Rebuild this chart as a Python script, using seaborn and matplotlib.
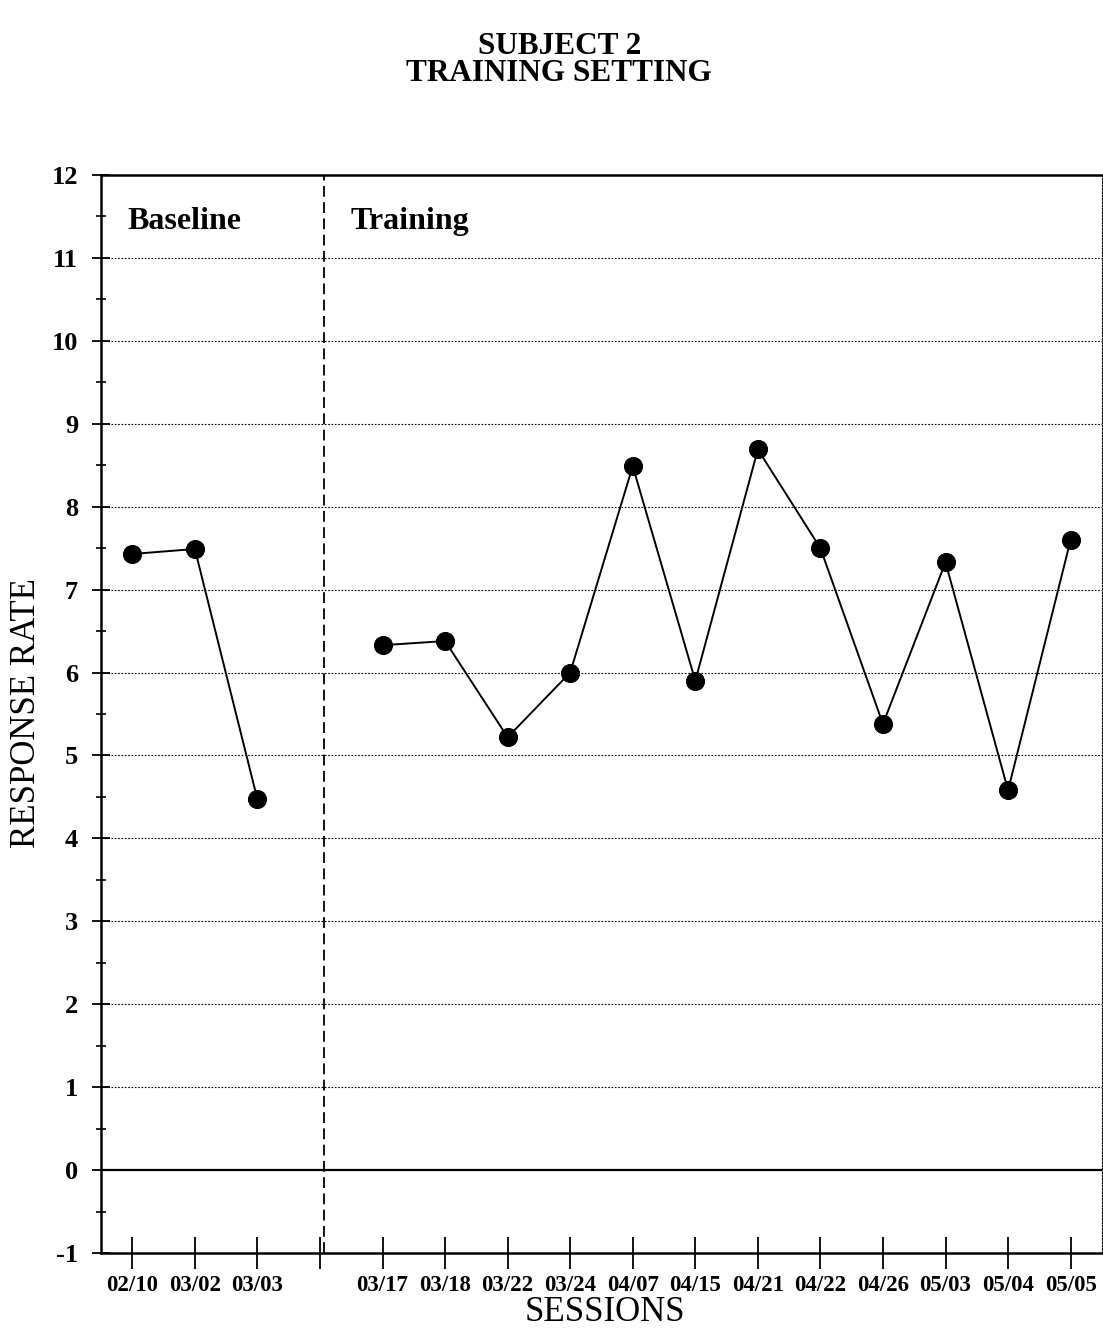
import numpy as np
import pandas as pd
import matplotlib
matplotlib.use("Agg")
import matplotlib.pyplot as plt
import seaborn as sns
from matplotlib.ticker import MultipleLocator

# données
baseline_dates = ["02/10", "03/02", "03/03"]
baseline_rates = [7.43, 7.49, 4.47]

training_dates = ["03/17", "03/18", "03/22", "03/24", "04/07", "04/15",
                  "04/21", "04/22", "04/26", "05/03", "05/04", "05/05"]
training_rates = [6.33, 6.38, 5.22, 6.0, 8.49, 5.9,
                  8.69, 7.5, 5.38, 7.33, 4.58, 7.6]

y_ticks = list(range(-1, 13))

# une case vide entre les deux phases
tick_labels = baseline_dates + [""] + training_dates
df_base = pd.DataFrame({"pos": range(len(baseline_dates)),
                        "rate": baseline_rates})
df_train = pd.DataFrame({"pos": range(len(baseline_dates) + 1, len(tick_labels)),
                         "rate": training_rates})

sns.set_style("white")
plt.rcParams["font.family"] = ["Liberation Serif", "DejaVu Serif"]
plt.rcParams["text.color"] = "black"

fig = plt.figure(figsize=(11.03, 13.32), dpi=100)
ax = fig.add_axes([0.0916, 0.0593, 0.9074, 0.8093])

for df in (df_base, df_train):
    sns.lineplot(data=df, x="pos", y="rate", ax=ax, color="black",
                 linewidth=1.4, marker="o", markersize=13,
                 markeredgecolor="black", markerfacecolor="black", zorder=5)

ax.set_xlim(-0.5, len(tick_labels) - 0.5)
ax.set_ylim(-1, 12)

# lignes horizontales pointillées + ligne du zéro
for y in y_ticks[2:-1]:
    ax.axhline(y, color="black", linewidth=0.8, linestyle=(0, (1.5, 1.5)), zorder=1)
ax.axhline(0, color="black", linewidth=1.6, zorder=2)

# séparation des phases
ax.axvline(3.06, color="black", linewidth=1.3, linestyle=(0, (6, 3)), zorder=2)

ax.text(-0.08, 11.35, "Baseline", fontsize=23, fontweight="bold", va="baseline")
ax.text(3.49, 11.35, "Training", fontsize=23, fontweight="bold", va="baseline")

ax.set_xticks(range(len(tick_labels)))
ax.set_xticklabels(tick_labels, fontsize=16.5, fontweight="bold")
ax.set_yticks(y_ticks)
ax.set_yticklabels([str(v) for v in y_ticks], fontsize=19, fontweight="bold")
ax.yaxis.set_minor_locator(MultipleLocator(0.5))

ax.tick_params(axis="x", bottom=True, direction="inout", length=23, width=1.3,
               pad=4, colors="black")
ax.tick_params(axis="y", which="major", left=True, direction="inout", length=13,
               width=1.3, pad=10, colors="black")
ax.tick_params(axis="y", which="minor", left=True, direction="inout", length=7,
               width=1.2, colors="black")

for side in ("left", "bottom", "top"):
    ax.spines[side].set_color("black")
    ax.spines[side].set_linewidth(1.8)
ax.spines["right"].set_color("black")
ax.spines["right"].set_linewidth(0.8)
ax.spines["right"].set_linestyle((0, (1.5, 1.5)))

ax.set_xlabel("")
ax.set_ylabel("")
fig.text(0.548, 0.002, "SESSIONS", fontsize=25, ha="center", va="bottom")
fig.text(0.024, 0.465, "RESPONSE RATE", fontsize=25, rotation=90,
         ha="center", va="center")

fig.text(0.507, 0.965, "SUBJECT 2", fontsize=22.5, fontweight="bold",
         ha="center", va="center")
fig.text(0.507, 0.945, "TRAINING SETTING", fontsize=22.5, fontweight="bold",
         ha="center", va="center")

fig.savefig("out.png", dpi=100, facecolor="white")
